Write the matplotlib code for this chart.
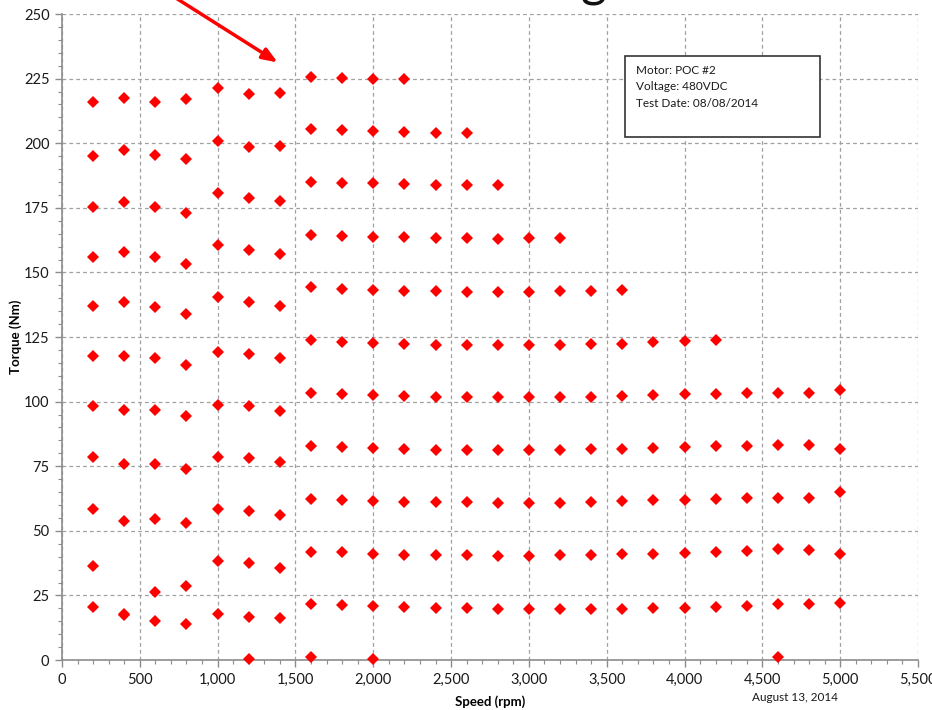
import matplotlib
matplotlib.use('Agg')
import matplotlib.pyplot as plt
from matplotlib.ticker import MultipleLocator, FuncFormatter
from matplotlib.patches import Rectangle
import numpy as np

plt.rcParams['font.family'] = ['Lato', 'DejaVu Sans']

# ---------------------------------------------------------------------------
# Data: measured torque points (Nm) vs speed (rpm), one list per torque row
# ---------------------------------------------------------------------------
speeds_low = [200, 400, 600, 800, 1000, 1200, 1400]
low_220 = [216.1, 217.7, 216.1, 217.2, 221.4, 219.0, 219.3]
low_200 = [195.0, 197.2, 195.4, 193.8, 200.9, 198.7, 199.0]
low_180 = [175.3, 177.4, 175.4, 172.9, 180.6, 178.7, 177.8]
low_160 = [156.1, 157.8, 156.0, 153.1, 160.5, 158.8, 157.1]
low_140 = [137.1, 138.5, 136.6, 133.8, 140.5, 138.7, 137.0]
low_120 = [117.8, 117.8, 116.9, 114.3, 119.1, 118.5, 116.9]
low_100 = [98.4, 96.9, 96.6, 94.6, 98.7, 98.3, 96.4]
low_80 = [78.7, 75.9, 75.9, 73.9, 78.7, 78.1, 76.5]
low_60 = [58.3, 53.7, 54.4, 53.1, 58.3, 57.8, 56.0]
low_40 = [36.4, np.nan, 26.2, 28.8, 38.3, 37.4, 35.7]
low_20 = [20.6, 17.8, 15.1, 13.8, 17.9, 16.6, 16.1]

speeds_high = [1600, 1800, 2000, 2200, 2400, 2600, 2800, 3000, 3200,
               3400, 3600, 3800, 4000, 4200, 4400, 4600, 4800, 5000]
high_225 = [225.7, 225.4, 224.7, 224.7]
high_205 = [205.5, 205.1, 204.7, 204.3, 204.1, 204.1]
high_185 = [185.0, 184.7, 184.5, 184.1, 183.8, 183.8, 183.7]
high_165 = [164.5, 164.2, 163.8, 163.6, 163.3, 163.2, 162.9, 163.2, 163.3]
high_145 = [144.2, 143.7, 143.3, 142.9, 142.8, 142.5, 142.4, 142.5, 142.7,
            142.9, 143.2]
high_125 = [123.7, 122.9, 122.5, 122.3, 122.0, 122.0, 121.8, 122.0, 122.0,
            122.2, 122.4, 123.1, 123.5, 123.7]
high_105 = [103.2, 102.8, 102.6, 102.2, 101.9, 101.9, 101.6, 101.7, 101.9,
            101.9, 102.2, 102.7, 102.9, 103.1, 103.5, 103.5, 103.5, 104.4]
high_85 = [82.8, 82.3, 82.0, 81.8, 81.4, 81.3, 81.2, 81.3, 81.3,
           81.5, 81.7, 81.9, 82.4, 82.8, 82.9, 83.2, 83.3, 81.7]
high_65 = [62.3, 62.0, 61.7, 61.3, 61.1, 61.0, 60.8, 60.9, 60.9,
           61.1, 61.4, 61.8, 61.9, 62.3, 62.8, 62.7, 62.7, 64.9]
high_45 = [41.9, 41.7, 41.1, 40.8, 40.6, 40.5, 40.4, 40.4, 40.5,
           40.7, 40.9, 41.1, 41.3, 41.9, 42.2, 42.8, 42.6, 41.0]
high_20 = [21.5, 21.2, 20.9, 20.4, 20.1, 20.0, 19.7, 19.6, 19.6,
           19.6, 19.6, 20.0, 20.1, 20.6, 20.9, 21.5, 21.5, 22.2]

# stray points (zero torque + duplicate reading at 400 rpm)
extra_speeds = [400, 1200, 1600, 2000, 4600]
extra_torques = [17.4, 0.4, 1.3, 0.4, 1.0]

info_lines = ['Motor: POC #2', 'Voltage: 480VDC', 'Test Date: 08/08/2014']

low_rows = [low_220, low_200, low_180, low_160, low_140, low_120,
            low_100, low_80, low_60, low_40, low_20]
high_rows = [high_225, high_205, high_185, high_165, high_145, high_125,
             high_105, high_85, high_65, high_45, high_20]

# ---------------------------------------------------------------------------
fig = plt.figure(figsize=(9.32, 7.10), dpi=100)
ax = fig.add_axes([0.0665, 0.0704, 0.9185, 0.9098])

marker_kw = dict(marker='D', color='#FF0000', markersize=6.0,
                 linestyle='none', markeredgewidth=0, clip_on=False, zorder=3)

for row in low_rows:
    ax.plot(speeds_low, row, **marker_kw)
for row in high_rows:
    ax.plot(speeds_high[:len(row)], row, **marker_kw)
ax.plot(extra_speeds, extra_torques, **marker_kw)

ax.set_xlim(0, 5500)
ax.set_ylim(0, 250)
ax.xaxis.set_major_locator(MultipleLocator(500))
ax.xaxis.set_minor_locator(MultipleLocator(100))
ax.yaxis.set_major_locator(MultipleLocator(25))
ax.yaxis.set_minor_locator(MultipleLocator(5))
ax.xaxis.set_major_formatter(FuncFormatter(lambda v, p: f'{int(v):,}'))

ax.grid(which='major', color='#A0A0A0', linestyle=(0, (3, 2.5)), linewidth=0.9)
ax.set_axisbelow(True)

for side in ['top', 'right']:
    ax.spines[side].set_visible(False)
for side in ['left', 'bottom']:
    ax.spines[side].set_color('#8C8C8C')
    ax.spines[side].set_linewidth(1.2)

ax.tick_params(which='major', direction='out', length=5, width=1,
               color='#8C8C8C', labelsize=10.5, labelcolor='#1A1A1A', pad=4)
ax.tick_params(which='minor', direction='out', length=3, width=0.8,
               color='#8C8C8C')

ax.set_xlabel('Speed (rpm)', fontsize=9.5, fontweight='bold', labelpad=6)
ax.set_ylabel('Torque (Nm)', fontsize=9.5, fontweight='bold', labelpad=1)

# info box
ax.add_patch(Rectangle((0.658, 0.810), 0.228, 0.125, transform=ax.transAxes,
                       facecolor='white', edgecolor='#333333', linewidth=1.2,
                       zorder=4))
for i, line in enumerate(info_lines):
    ax.text(0.670, 0.913 - i * 0.0255, line, transform=ax.transAxes,
            fontsize=8.5, va='center', ha='left', color='#1A1A1A', zorder=5)

# date footer
fig.text(0.853, 0.018, 'August 13, 2014', fontsize=8.5, ha='center',
         va='center', color='#1A1A1A')

# red arrow coming in from above the plot
ax.annotate('', xy=(0.298, 0.912), xycoords='figure fraction',
            xytext=(0.150, 1.035), textcoords='figure fraction',
            annotation_clip=False,
            arrowprops=dict(arrowstyle='-|>,head_length=0.9,head_width=0.35',
                            color='#FF0000', linewidth=2.5,
                            shrinkA=0, shrinkB=0))

# descender of the (cropped) slide title
fig.text(0.637, 1.006, 'g', fontsize=36, ha='center', va='baseline',
         color='#111111')

plt.savefig('out.png', dpi=100)
